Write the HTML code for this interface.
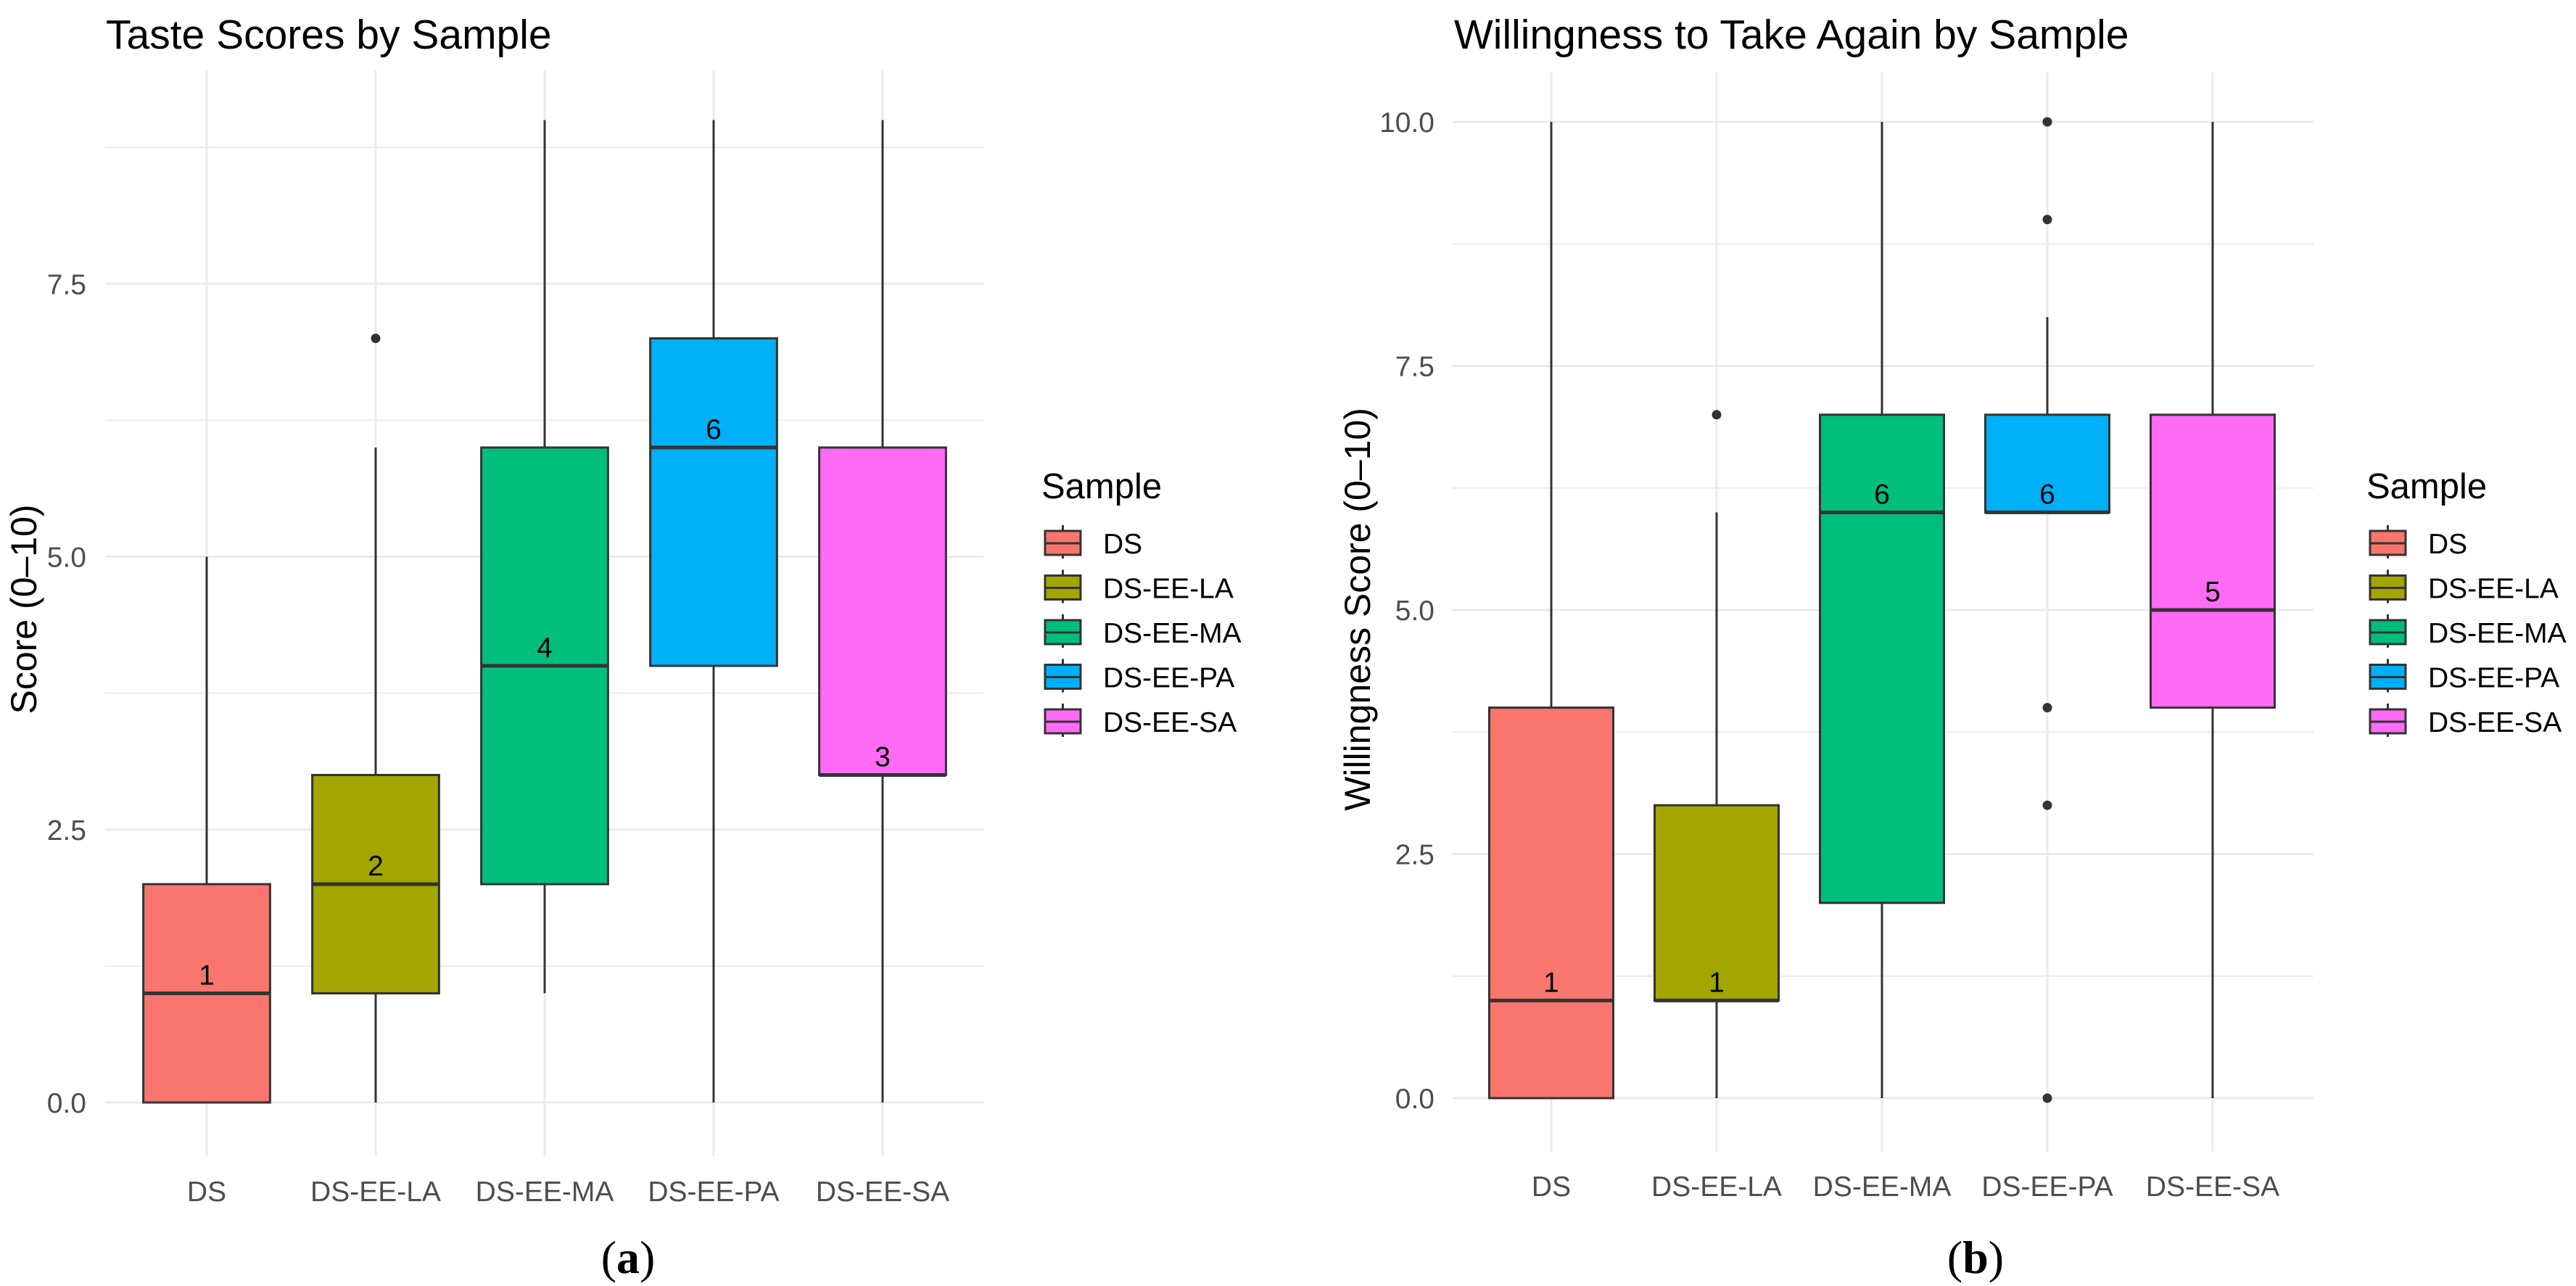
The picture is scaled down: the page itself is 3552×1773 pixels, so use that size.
<!DOCTYPE html>
<html><head><meta charset="utf-8"><style>
html,body{margin:0;padding:0;background:#fff;}
svg{display:block;font-family:"Liberation Sans",sans-serif;}
</style></head><body>
<svg id="chart" width="3552" height="1773" viewBox="0 0 3552 1773" xmlns="http://www.w3.org/2000/svg">
<rect width="3552" height="1773" fill="#fff"/>
<g id="pa"></g>
<g id="pb"></g>
</svg>
<script>
const categories = ["DS","DS-EE-LA","DS-EE-MA","DS-EE-PA","DS-EE-SA"];
const colors = ["#F8766D","#A3A500","#00BF7D","#00B0F6","#FF6BF5"];
// Panel A: taste
const tasteLow = [0,0,1,0,0];
const tasteQ1 = [0,1,2,4,3];
const tasteMed = [1,2,4,6,3];
const tasteQ3 = [2,3,6,7,6];
const tasteHigh = [5,6,9,9,9];
const tasteOut = [[],[7],[],[],[]];
const tasteTicks = ["0.0","2.5","5.0","7.5"];
const tasteTickVals = [0,2.5,5,7.5];
// Panel B: willingness
const willLow = [0,0,0,6,0];
const willQ1 = [0,1,2,6,4];
const willMed = [1,1,6,6,5];
const willQ3 = [4,3,7,7,7];
const willHigh = [10,6,10,8,10];
const willOut = [[],[7],[],[10,9,4,3,0],[]];
const willTicks = ["0.0","2.5","5.0","7.5","10.0"];
const willTickVals = [0,2.5,5,7.5,10];

const NS="http://www.w3.org/2000/svg";
function mk(parent,tag,attrs,text){const e=document.createElementNS(NS,tag);for(const k in attrs)e.setAttribute(k,attrs[k]);if(text!==undefined)e.textContent=text;parent.appendChild(e);return e;}

function panel(g,cfg){
  const yv=v=>cfg.y0-v*cfg.ppu;
  const xc=i=>cfg.x0+i*cfg.dx;
  for(let v=0; v<=cfg.vmax+0.001; v+=1.25){
    const l=mk(g,'line',{x1:cfg.left,x2:cfg.right,y1:yv(v),y2:yv(v),stroke:'#ebebeb','stroke-width':(v%2.5===0)?3:2});
    
    
  }
  categories.forEach((c,i)=>{
    const l=mk(g,'line',{x1:xc(i),x2:xc(i),y1:cfg.top,y2:cfg.bottom,stroke:'#ebebeb','stroke-width':3});
    
    
  });
  cfg.tickVals.forEach((v,i)=>{
    const t=mk(g,'text',{x:cfg.tickRight,y:yv(v)+14,'text-anchor':'end','font-size':39,fill:'#4d4d4d'},cfg.ticks[i]);
    
    
  });
  categories.forEach((c,i)=>{
    const t=mk(g,'text',{x:xc(i),y:cfg.xlabY,'text-anchor':'middle','font-size':39,fill:'#4d4d4d'},c);
    
    
  });
  const bw=cfg.dx*0.75;
  categories.forEach((c,i)=>{
    const bg=mk(g,'g',{});
    
    
    const x=xc(i);
    mk(bg,'line',{x1:x,x2:x,y1:yv(cfg.hi[i]),y2:yv(cfg.q3[i]),stroke:'#333','stroke-width':3});
    mk(bg,'line',{x1:x,x2:x,y1:yv(cfg.q1[i]),y2:yv(cfg.lo[i]),stroke:'#333','stroke-width':3});
    mk(bg,'rect',{x:x-bw/2,y:yv(cfg.q3[i]),width:bw,height:yv(cfg.q1[i])-yv(cfg.q3[i]),fill:colors[i],stroke:'#333','stroke-width':3});
    mk(bg,'line',{x1:x-bw/2,x2:x+bw/2,y1:yv(cfg.med[i]),y2:yv(cfg.med[i]),stroke:'#333','stroke-width':5});
    cfg.out[i].forEach(v=>{
      const d=mk(bg,'circle',{cx:x,cy:yv(v),r:6.5,fill:'#333'});
      
      
    });
    const t=mk(bg,'text',{x:x,y:yv(cfg.med[i])-12,'text-anchor':'middle','font-size':39,fill:'#000'},String(cfg.med[i]));
    
    
  });
  const tt=mk(g,'text',{x:cfg.titleX,y:67,'font-size':57,fill:'#000'},cfg.title);
  
  
  const yt=mk(g,'text',{x:0,y:0,'text-anchor':'middle','font-size':50,fill:'#000',transform:`translate(${cfg.ytX},840) rotate(-90)`},cfg.ytitle);
  
  
  const lg=mk(g,'g',{});
  
  
  const lt=mk(lg,'text',{x:cfg.legX-5,y:687,'font-size':49,fill:'#000'},'Sample');
  
  
  categories.forEach((c,i)=>{
    const e=mk(lg,'g',{});
    
    
    const cy=749+i*61.5, kx=cfg.legX, kw=49;
    mk(e,'line',{x1:kx+kw/2,x2:kx+kw/2,y1:cy-25,y2:cy+21,stroke:'#333','stroke-width':3});
    mk(e,'rect',{x:kx,y:cy-17,width:kw,height:33,fill:colors[i],stroke:'#333','stroke-width':3});
    mk(e,'line',{x1:kx,x2:kx+kw,y1:cy,y2:cy,stroke:'#333','stroke-width':3});
    mk(e,'text',{x:cfg.legX+80,y:cy+14,'font-size':39,fill:'#000'},c);
  });
  const cap=mk(g,'text',{x:cfg.capX,y:1755,'text-anchor':'middle','font-size':64,'font-family':'"Liberation Serif",serif',fill:'#000'},'');
  
  
  mk(cap,'tspan',{},'(');
  mk(cap,'tspan',{'font-weight':'bold'},cfg.cap);
  mk(cap,'tspan',{},')');
}

panel(document.getElementById('pa'),{
  y0:1520,ppu:150.5,x0:285,dx:233,left:145,right:1356,top:97,bottom:1594,vmax:8.76,
  ticks:tasteTicks,tickVals:tasteTickVals,tickRight:119,xlabY:1656,
  lo:tasteLow,q1:tasteQ1,med:tasteMed,q3:tasteQ3,hi:tasteHigh,out:tasteOut,
  title:'Taste Scores by Sample',titleX:146,ytitle:'Score (0–10)',ytX:50,legX:1441,capX:866,cap:'a'
});
panel(document.getElementById('pb'),{
  y0:1514,ppu:134.6,x0:2139,dx:228,left:2003,right:3190,top:100,bottom:1588,vmax:10.01,
  ticks:willTicks,tickVals:willTickVals,tickRight:1978,xlabY:1649,
  lo:willLow,q1:willQ1,med:willMed,q3:willQ3,hi:willHigh,out:willOut,
  title:'Willingness to Take Again by Sample',titleX:2005,ytitle:'Willingness Score (0–10)',ytX:1889,legX:3268,capX:2724,cap:'b'
});
</script>
</body></html>
